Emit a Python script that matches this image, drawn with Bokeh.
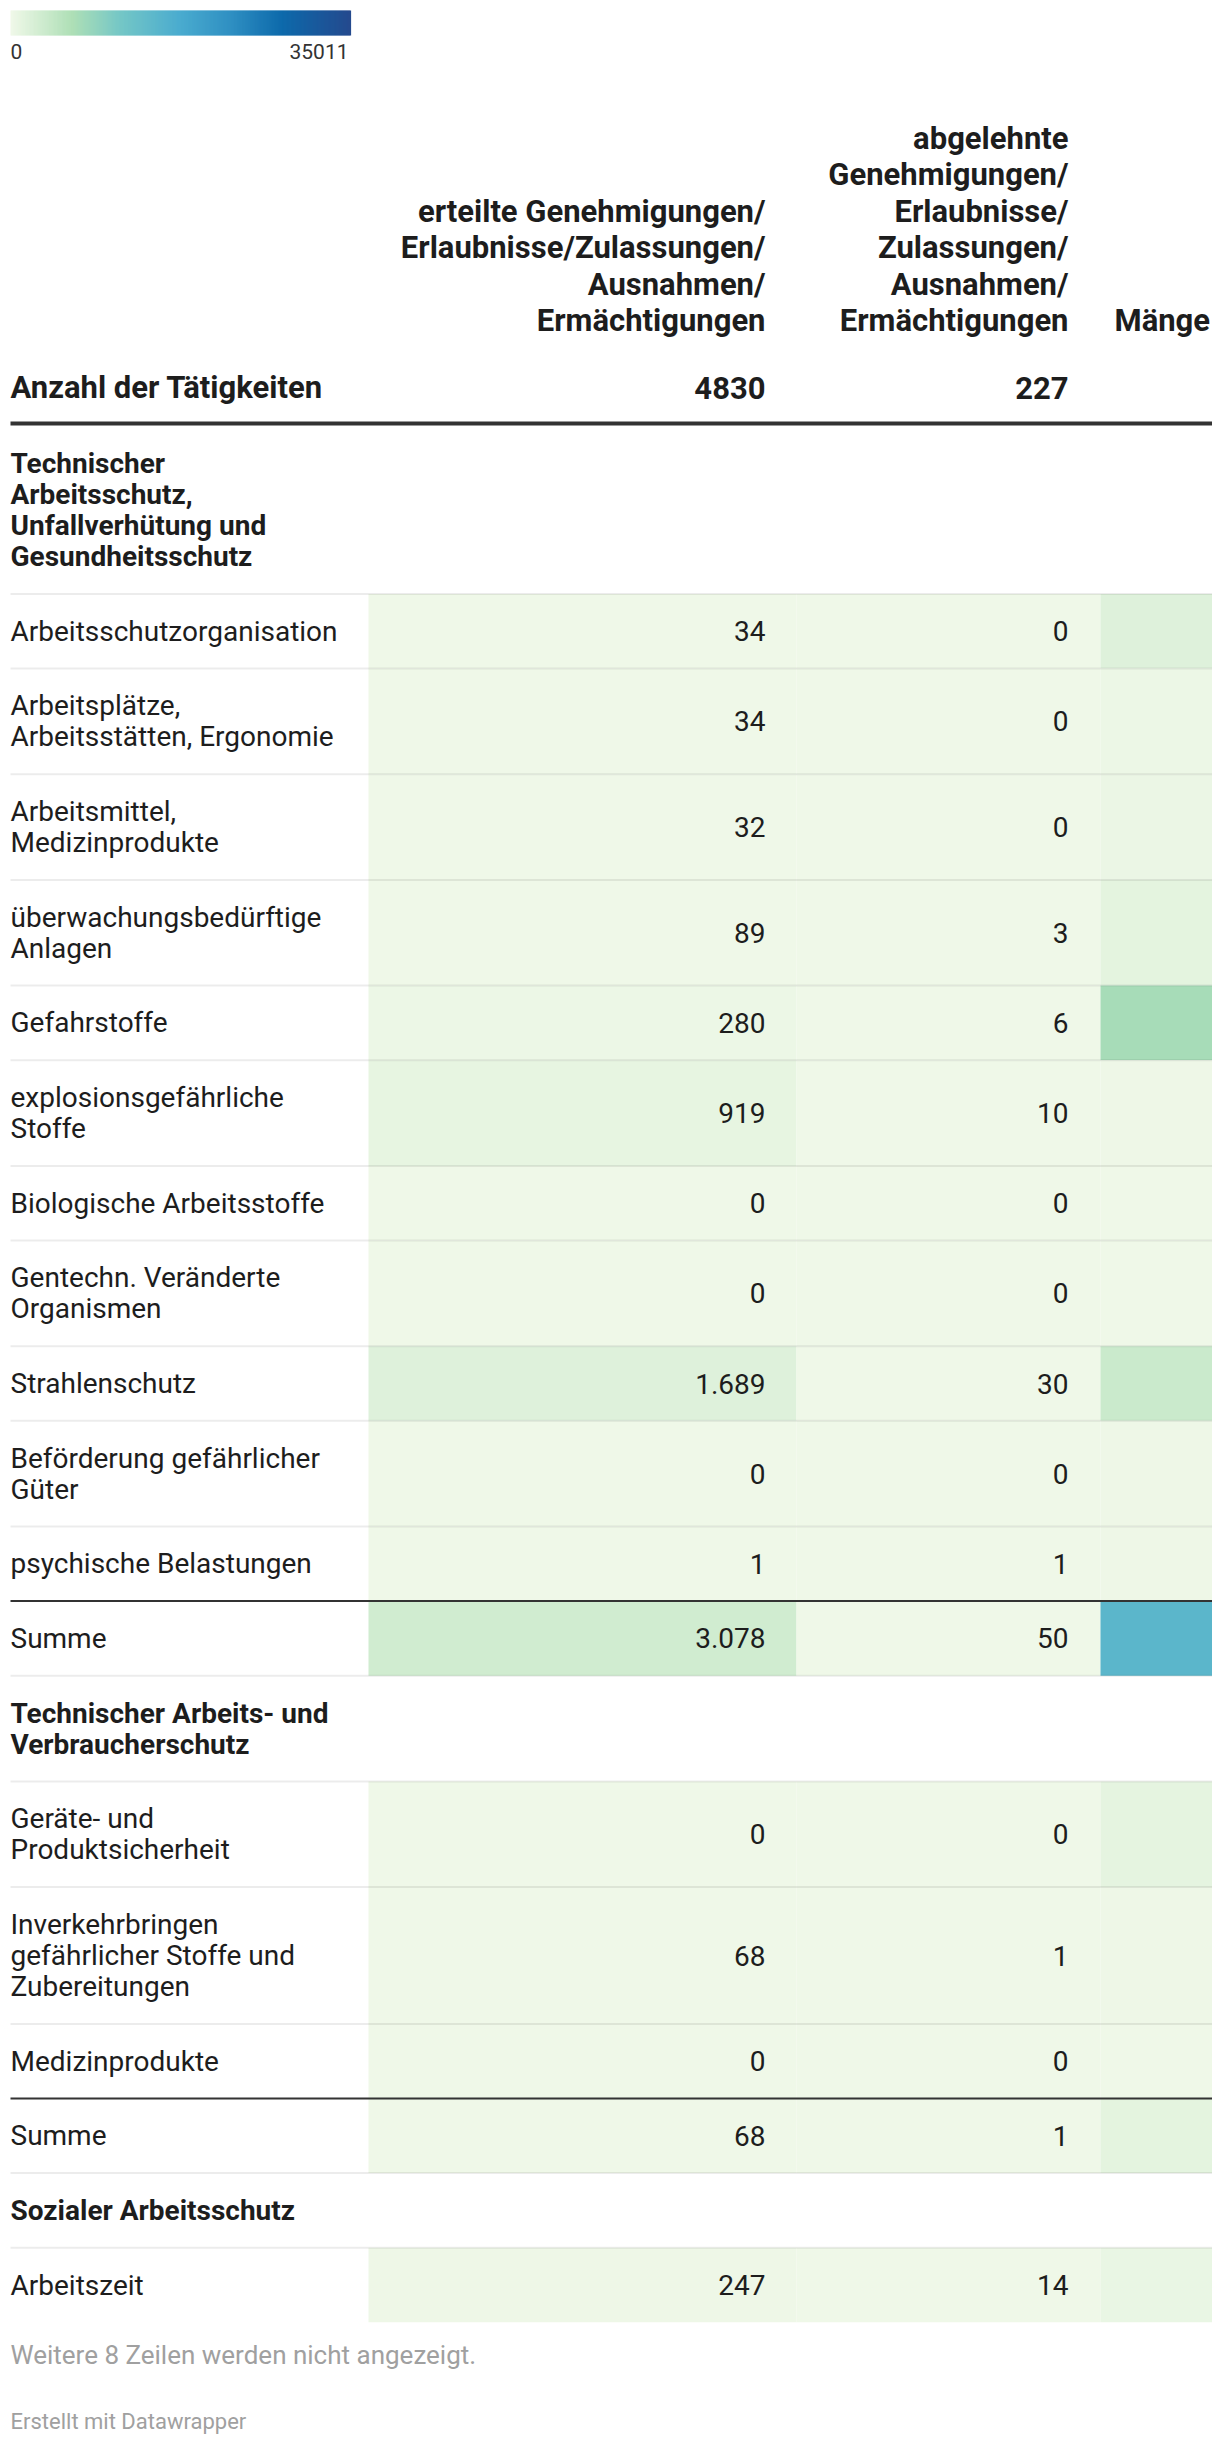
from bokeh.plotting import figure
from bokeh.models import Range1d, LinearColorMapper, ColumnDataSource
from bokeh.core.properties import value
from bokeh.embed import file_html
from bokeh.resources import INLINE
import numpy as np

# ---------------- data ----------------
legend_ticks = [0, 35011]

col_headers = [
    ["erteilte Genehmigungen/", "Erlaubnisse/Zulassungen/", "Ausnahmen/", "Ermächtigungen"],
    ["abgelehnte", "Genehmigungen/", "Erlaubnisse/", "Zulassungen/", "Ausnahmen/", "Ermächtigungen"],
    ["Mänge"],
]
total_label = "Anzahl der Tätigkeiten"
totals = [4830, 227]

sections = [
    "Technischer\nArbeitsschutz,\nUnfallverhütung und\nGesundheitsschutz",
    "Technischer Arbeits- und\nVerbraucherschutz",
    "Sozialer Arbeitsschutz",
]
row_labels = [
    "Arbeitsschutzorganisation",
    "Arbeitsplätze,\nArbeitsstätten, Ergonomie",
    "Arbeitsmittel,\nMedizinprodukte",
    "überwachungsbedürftige\nAnlagen",
    "Gefahrstoffe",
    "explosionsgefährliche\nStoffe",
    "Biologische Arbeitsstoffe",
    "Gentechn. Veränderte\nOrganismen",
    "Strahlenschutz",
    "Beförderung gefährlicher\nGüter",
    "psychische Belastungen",
    "Summe",
    "Geräte- und\nProduktsicherheit",
    "Inverkehrbringen\ngefährlicher Stoffe und\nZubereitungen",
    "Medizinprodukte",
    "Summe",
    "Arbeitszeit",
]
row_section = [0, 0, 0, 0, 0, 0, 0, 0, 0, 0, 0, 0, 1, 1, 1, 1, 2]
row_is_sum = [False] * 11 + [True] + [False] * 3 + [True] + [False]
erteilte = [34, 34, 32, 89, 280, 919, 0, 0, 1689, 0, 1, 3078, 0, 68, 0, 68, 247]
abgelehnte = [0, 0, 0, 3, 6, 10, 0, 0, 30, 0, 1, 50, 0, 1, 0, 1, 14]
maengel = [1700, 400, 450, 1150, 6900, 200, 120, 80, 3600, 150, 180, 14930,
           970, 190, 30, 1190, 680]
footer_note = "Weitere 8 Zeilen werden nicht angezeigt."
credit = "Erstellt mit Datawrapper"

# ---------------- style / layout ----------------
W, H = 1212, 2440
FONT = "Roboto"
TXT = "#1d1d1d"
BODY = "28px"
HEAD = "31px"
stops = [(0.0, "#eff8e8"), (0.18, "#aedfb6"), (0.32, "#75c7c6"), (0.5, "#4aabcf"),
         (0.65, "#2f8fc2"), (0.8, "#0d6aab"), (1.0, "#244a8e")]


def hex2rgb(h):
    return np.array([int(h[i:i + 2], 16) for i in (1, 3, 5)], dtype=float)


palette = []
for t in np.linspace(0, 1, 256):
    for (p0, c0), (p1, c1) in zip(stops[:-1], stops[1:]):
        if p0 <= t <= p1:
            f = (t - p0) / (p1 - p0)
            c = hex2rgb(c0) * (1 - f) + hex2rgb(c1) * f
            palette.append("#%02x%02x%02x" % tuple(int(round(v)) for v in c))
            break
mapper = LinearColorMapper(palette=palette, low=legend_ticks[0], high=legend_ticks[1])


def X(px):
    return px


def Y(py):
    return py


p = figure(width=W, height=H, x_range=Range1d(0, W), y_range=Range1d(H, 0),
           output_backend="svg", toolbar_location=None,
           x_axis_type=None, y_axis_type=None, min_border=0)
p.grid.visible = False
p.outline_line_color = None
p.background_fill_color = "white"
p.border_fill_color = "white"

texts = {k: [] for k in ["x", "y", "t", "align", "style", "size", "color"]}


def add_text(x, y, t, align="left", bold=False, size=BODY, color=TXT):
    texts["x"].append(X(x)); texts["y"].append(Y(y)); texts["t"].append(t)
    texts["align"].append(align); texts["style"].append("bold" if bold else "normal")
    texts["size"].append(size); texts["color"].append(color)


cells = {k: [] for k in ["l", "r", "t", "b", "v"]}
light = {k: [] for k in ["x0", "x1", "y"]}
dark = {k: [] for k in ["x0", "x1", "y", "w"]}

col_left = [368, 796, 1100]
col_right = [796, 1100, 1400]
num_right = [765, 1068]
LEFT = 10
RIGHT = 1400
LH = 31.1


def row_h(n):
    return 43.5 + LH * n


# legend
N = 340
lv = np.linspace(legend_ticks[0], legend_ticks[1], N)
lx = np.linspace(10, 350, N + 1)
leg = ColumnDataSource(dict(l=X(lx[:-1]), r=X(lx[1:] + 0.6), t=[Y(10)] * N, b=[Y(35)] * N, v=lv))
p.quad(left="l", right="r", top="t", bottom="b", source=leg,
       fill_color={"field": "v", "transform": mapper},
       line_color=None)
add_text(10, 51, str(legend_ticks[0]), size="21px", color="#333333")
add_text(348, 51, str(legend_ticks[1]), align="right", size="21px", color="#333333")

# column headers
HL = 36.5
for c, lines in enumerate(col_headers):
    n = len(lines)
    for k, ln in enumerate(lines):
        yy = 320 - (n - 1 - k) * HL
        if c < 2:
            add_text(num_right[c], yy, ln, align="right", bold=True, size=HEAD)
        else:
            add_text(1114, yy, ln, align="left", bold=True, size=HEAD)

add_text(LEFT, 387, total_label, bold=True, size=HEAD)
for c, v in enumerate(totals):
    add_text(num_right[c], 387, str(v), align="right", bold=True, size=HEAD)
dark["x0"].append(X(LEFT)); dark["x1"].append(X(RIGHT)); dark["y"].append(Y(423)); dark["w"].append(4)


def fmt(v):
    return f"{v:,}".replace(",", ".")


y = 425.5
for s, sec in enumerate(sections):
    lines = sec.split("\n")
    h = row_h(len(lines))
    cy = y + h / 2
    for k, ln in enumerate(lines):
        add_text(LEFT, cy + (k - (len(lines) - 1) / 2) * LH, ln, bold=True)
    y += h
    for i, lab in enumerate(row_labels):
        if row_section[i] != s:
            continue
        lines = lab.split("\n")
        h = row_h(len(lines))
        cy = y + h / 2
        for c, vals in enumerate([erteilte, abgelehnte, maengel]):
            cells["l"].append(X(col_left[c])); cells["r"].append(X(col_right[c]))
            cells["t"].append(Y(y)); cells["b"].append(Y(y + h)); cells["v"].append(vals[i])
        for k, ln in enumerate(lines):
            add_text(LEFT, cy + (k - (len(lines) - 1) / 2) * LH, ln)
        add_text(num_right[0], cy, fmt(erteilte[i]), align="right")
        add_text(num_right[1], cy, fmt(abgelehnte[i]), align="right")
        if row_is_sum[i]:
            dark["x0"].append(X(LEFT)); dark["x1"].append(X(RIGHT)); dark["y"].append(Y(y)); dark["w"].append(2)
        else:
            light["x0"].append(X(LEFT)); light["x1"].append(X(RIGHT)); light["y"].append(Y(y))
        y += h
        if row_is_sum[i]:
            light["x0"].append(X(LEFT)); light["x1"].append(X(RIGHT)); light["y"].append(Y(y))

p.quad(left="l", right="r", top="t", bottom="b", source=ColumnDataSource(cells),
       fill_color={"field": "v", "transform": mapper}, line_color=None)
p.segment(x0="x0", x1="x1", y0="y", y1="y", source=ColumnDataSource(light),
          line_color="black", line_alpha=0.075, line_width=2)
p.segment(x0="x0", x1="x1", y0="y", y1="y", source=ColumnDataSource(dark),
          line_color="#333333", line_width="w")

add_text(LEFT, 2354, footer_note, size="26px", color="#a0a0a0")
add_text(LEFT, 2421, credit, size="22px", color="#a0a0a0")

p.text(x="x", y="y", text="t", source=ColumnDataSource(texts),
       text_align="align", text_baseline="middle", text_font=value(FONT),
       text_font_style="style", text_font_size="size", text_color="color")

open("out.html", "w").write(file_html(p, INLINE))
